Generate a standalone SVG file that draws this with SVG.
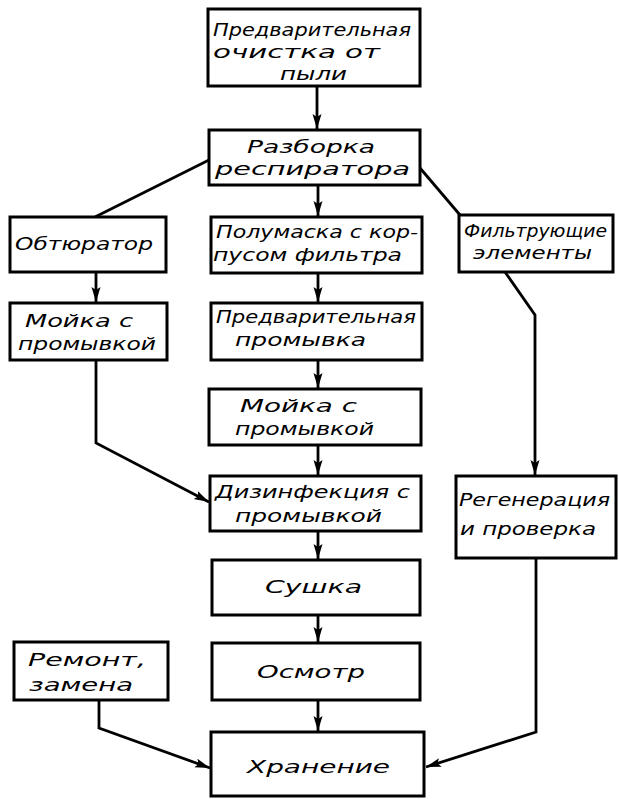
<svg xmlns="http://www.w3.org/2000/svg" width="619" height="799" viewBox="0 0 619 799">
<style>
.box{fill:#fff;stroke:#000;stroke-width:3}
.t{font-family:"DejaVu Sans","Liberation Sans",sans-serif;font-style:italic;font-size:18px;fill:#000}
.c{fill:none;stroke:#000;stroke-width:2.8;stroke-linejoin:miter}
</style>
<defs>
<marker id="ah" markerUnits="userSpaceOnUse" markerWidth="16" markerHeight="10" refX="15" refY="4.5" orient="auto">
<path d="M0,0 L15,4.5 L0,9 L3,4.5 z" fill="#000"/>
</marker>
</defs>
<rect width="619" height="799" fill="#fff"/>
<g id="connectors">
<path class="c" d="M317,86 L317,129" marker-end="url(#ah)"/>
<path class="c" d="M209,160 L95,217"/>
<path class="c" d="M96,272 L96,302" marker-end="url(#ah)"/>
<path class="c" d="M96,360 L96,443 L209,502" marker-end="url(#ah)"/>
<path class="c" d="M318,185 L318,216" marker-end="url(#ah)"/>
<path class="c" d="M318,273 L318,302" marker-end="url(#ah)"/>
<path class="c" d="M318,360 L318,388" marker-end="url(#ah)"/>
<path class="c" d="M318,445 L318,475" marker-end="url(#ah)"/>
<path class="c" d="M318,531 L318,559" marker-end="url(#ah)"/>
<path class="c" d="M318,615 L318,642" marker-end="url(#ah)"/>
<path class="c" d="M318,700 L318,731" marker-end="url(#ah)"/>
<path class="c" d="M420,168 L460,215"/>
<path class="c" d="M505,272 L535,315 L535,475" marker-end="url(#ah)"/>
<path class="c" d="M536,558 L536,732 L426,767" marker-end="url(#ah)"/>
<path class="c" d="M99,700 L99,728 L210,768" marker-end="url(#ah)"/>
</g>
<g id="n1"><rect class="box" x="208" y="9" width="212" height="77"/>
<text class="t" x="213" y="36" textLength="198" lengthAdjust="spacingAndGlyphs">Предварительная</text>
<text class="t" x="213" y="58" textLength="167" lengthAdjust="spacingAndGlyphs">очистка  от</text>
<text class="t" x="280" y="80" textLength="67" lengthAdjust="spacingAndGlyphs">пыли</text></g>
<g id="n2"><rect class="box" x="209" y="130" width="211" height="55"/>
<text class="t" x="247" y="153" textLength="128" lengthAdjust="spacingAndGlyphs">Разборка</text>
<text class="t" x="215" y="175" textLength="195" lengthAdjust="spacingAndGlyphs">респиратора</text></g>
<g id="n3"><rect class="box" x="10" y="217" width="156" height="55"/>
<text class="t" x="15" y="250" textLength="138" lengthAdjust="spacingAndGlyphs">Обтюратор</text></g>
<g id="n4"><rect class="box" x="10" y="303" width="157" height="57"/>
<text class="t" x="25" y="327" textLength="108" lengthAdjust="spacingAndGlyphs">Мойка с</text>
<text class="t" x="18" y="350" textLength="138" lengthAdjust="spacingAndGlyphs">промывкой</text></g>
<g id="n5"><rect class="box" x="211" y="217" width="211" height="56"/>
<text class="t" x="216" y="238" textLength="202" lengthAdjust="spacingAndGlyphs">Полумаска с кор-</text>
<text class="t" x="213" y="261" textLength="189" lengthAdjust="spacingAndGlyphs">пусом фильтра</text></g>
<g id="n6"><rect class="box" x="459" y="215" width="154" height="57"/>
<text class="t" x="464" y="237" textLength="143" lengthAdjust="spacingAndGlyphs">Фильтрующие</text>
<text class="t" x="473" y="259" textLength="119" lengthAdjust="spacingAndGlyphs">элементы</text></g>
<g id="n7"><rect class="box" x="211" y="303" width="211" height="57"/>
<text class="t" x="216" y="323" textLength="200" lengthAdjust="spacingAndGlyphs">Предварительная</text>
<text class="t" x="235" y="346" textLength="131" lengthAdjust="spacingAndGlyphs">промывка</text></g>
<g id="n8"><rect class="box" x="209" y="389" width="212" height="56"/>
<text class="t" x="240" y="412" textLength="117" lengthAdjust="spacingAndGlyphs">Мойка с</text>
<text class="t" x="235" y="435" textLength="139" lengthAdjust="spacingAndGlyphs">промывкой</text></g>
<g id="n9"><rect class="box" x="210" y="476" width="211" height="55"/>
<text class="t" x="215" y="498" textLength="195" lengthAdjust="spacingAndGlyphs">Дизинфекция с</text>
<text class="t" x="235" y="522" textLength="147" lengthAdjust="spacingAndGlyphs">промывкой</text></g>
<g id="n10"><rect class="box" x="456" y="476" width="160" height="82"/>
<text class="t" x="459" y="506" textLength="151" lengthAdjust="spacingAndGlyphs">Регенерация</text>
<text class="t" x="460" y="535" textLength="136" lengthAdjust="spacingAndGlyphs">и проверка</text></g>
<g id="n11"><rect class="box" x="212" y="560" width="208" height="55"/>
<text class="t" x="265" y="593" textLength="97" lengthAdjust="spacingAndGlyphs">Сушка</text></g>
<g id="n12"><rect class="box" x="14" y="642" width="154" height="58"/>
<text class="t" x="28" y="666" textLength="118" lengthAdjust="spacingAndGlyphs">Ремонт,</text>
<text class="t" x="29" y="691" textLength="104" lengthAdjust="spacingAndGlyphs">замена</text></g>
<g id="n13"><rect class="box" x="212" y="643" width="208" height="57"/>
<text class="t" x="257" y="678" textLength="108" lengthAdjust="spacingAndGlyphs">Осмотр</text></g>
<g id="n14"><rect class="box" x="211" y="732" width="213" height="64"/>
<text class="t" x="247" y="773" textLength="143" lengthAdjust="spacingAndGlyphs">Хранение</text></g>
</svg>
